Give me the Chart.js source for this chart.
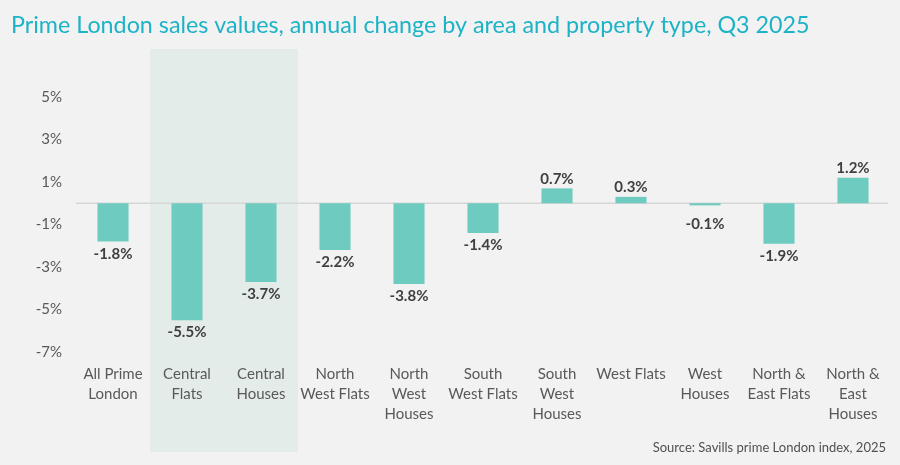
<!DOCTYPE html>
<html>
<head>
<meta charset="utf-8">
<script src="https://cdn.jsdelivr.net/npm/chart.js@4.4.1/dist/chart.umd.min.js"></script>
<style>
  html, body { margin: 0; padding: 0; background: #f2f2f2; }
  canvas { display: block; }
</style>
</head>
<body>
<canvas id="c" width="900" height="465"></canvas>
<script>
const categories = [
  ["All Prime", "London"],
  ["Central", "Flats"],
  ["Central", "Houses"],
  ["North", "West Flats"],
  ["North", "West", "Houses"],
  ["South", "West Flats"],
  ["South", "West", "Houses"],
  ["West Flats"],
  ["West", "Houses"],
  ["North &", "East Flats"],
  ["North &", "East", "Houses"]
];
const annualChange = [-1.8, -5.5, -3.7, -2.2, -3.8, -1.4, 0.7, 0.3, -0.1, -1.9, 1.2];
const yTicks = [-7, -5, -3, -1, 1, 3, 5];
const highlighted = [1, 2];
const titleText = "Prime London sales values, annual change by area and property type, Q3 2025";
const sourceText = "Source: Savills prime London index, 2025";

const FONT = "Lato, 'Open Sans', sans-serif";

const decorPlugin = {
  id: 'decor',
  beforeDraw(chart) {
    const ctx = chart.ctx;
    ctx.save();
    ctx.fillStyle = '#f2f2f2';
    ctx.fillRect(0, 0, chart.width, chart.height);
    const xs = chart.scales.x;
    const w = (xs.right - xs.left) / categories.length;
    const l = xs.getPixelForValue(highlighted[0]) - w / 2;
    const r = xs.getPixelForValue(highlighted[highlighted.length - 1]) + w / 2;
    ctx.fillStyle = '#e4ecea';
    ctx.fillRect(l, 49, r - l, 403);
    ctx.restore();
  },
  beforeDatasetsDraw(chart) {
    const ctx = chart.ctx;
    const ys = chart.scales.y;
    const area = chart.chartArea;
    const y0 = ys.getPixelForValue(0);
    ctx.save();
    ctx.strokeStyle = '#d6d6d6';
    ctx.lineWidth = 1.5;
    ctx.beginPath();
    ctx.moveTo(area.left, y0);
    ctx.lineTo(area.right - 2, y0);
    ctx.stroke();
    ctx.restore();
  },
  afterDatasetsDraw(chart) {
    const ctx = chart.ctx;
    const meta = chart.getDatasetMeta(0);
    ctx.save();
    ctx.fillStyle = '#404040';
    ctx.font = "bold 15px " + FONT;
    ctx.textAlign = 'center';
    meta.data.forEach((bar, i) => {
      const v = annualChange[i];
      const label = v.toFixed(1) + '%';
      if (v < 0) {
        ctx.textBaseline = 'top';
        ctx.fillText(label, bar.x, Math.max(bar.y, chart.scales.y.getPixelForValue(0) + 8) + 5);
      } else {
        ctx.textBaseline = 'bottom';
        ctx.fillText(label, bar.x, bar.y - 2);
      }
    });
    ctx.restore();
  },
  afterDraw(chart) {
    const ctx = chart.ctx;
    ctx.save();
    ctx.fillStyle = '#1db3c7';
    ctx.font = "23.3px " + FONT;
    ctx.textAlign = 'left';
    ctx.textBaseline = 'middle';
    ctx.fillText(titleText, 11, 25);
    ctx.fillStyle = '#505050';
    ctx.font = "13px " + FONT;
    ctx.textAlign = 'right';
    ctx.fillText(sourceText, 886, 448);
    ctx.restore();
  }
};

new Chart(document.getElementById('c'), {
  type: 'bar',
  data: {
    labels: categories,
    datasets: [{
      data: annualChange,
      backgroundColor: '#6ecbbf',
      borderWidth: 0,
      barPercentage: 0.42,
      categoryPercentage: 1.0
    }]
  },
  plugins: [decorPlugin],
  options: {
    responsive: false,
    animation: false,
    layout: { padding: { top: 97, right: 10, left: 0, bottom: 0 } },
    plugins: { legend: { display: false }, tooltip: { enabled: false }, title: { display: false } },
    scales: {
      x: {
        grid: { display: false, drawTicks: false },
        border: { display: false },
        ticks: {
          color: '#595959',
          font: { family: FONT, size: 15, lineHeight: 1.333 },
          padding: 12,
          maxRotation: 0,
          minRotation: 0,
          autoSkip: false
        },
        afterFit(scale) { scale.height = 113; }
      },
      y: {
        min: -7,
        max: 5,
        afterBuildTicks(scale) { scale.ticks = yTicks.map(v => ({ value: v })); },
        grid: { display: false, drawTicks: false },
        border: { display: false },
        ticks: {
          color: '#595959',
          font: { family: FONT, size: 15 },
          padding: 14,
          callback: v => v + '%'
        },
        afterFit(scale) { scale.width = 76; }
      }
    }
  }
});
</script>
</body>
</html>
